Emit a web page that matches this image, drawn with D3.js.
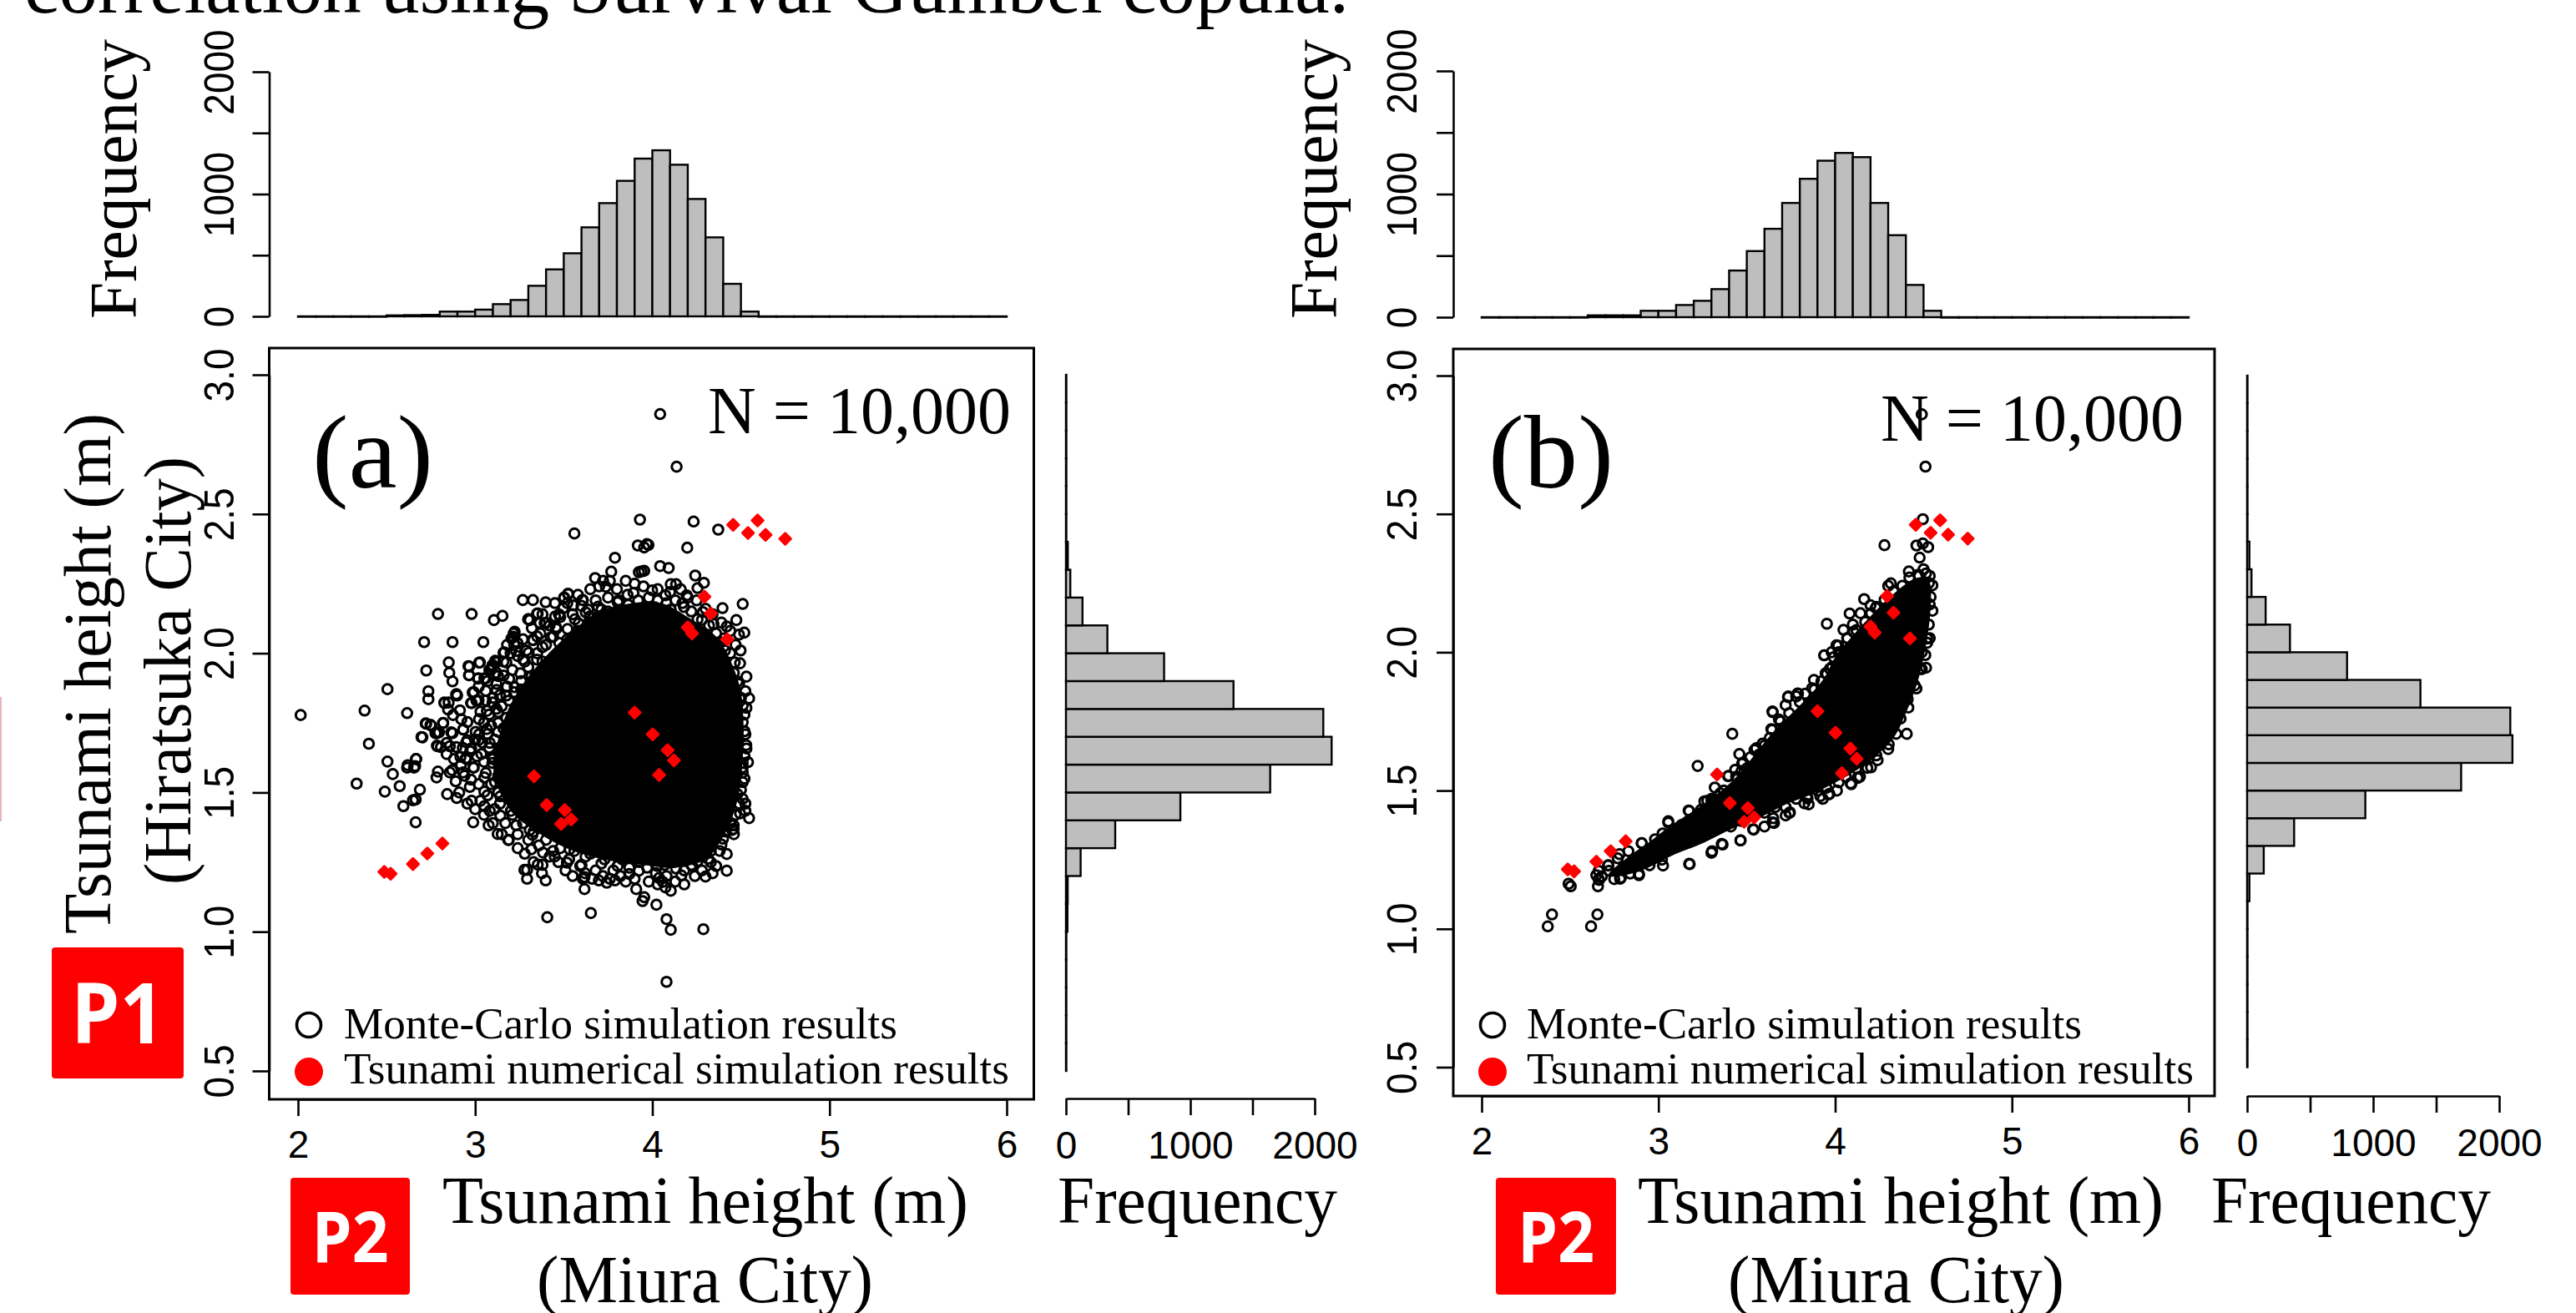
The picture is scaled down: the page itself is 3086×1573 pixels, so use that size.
<!DOCTYPE html>
<html>

<head>
    <script src="https://d3js.org/d3.v7.min.js"></script>
    <style>
        html, body {
            margin: 0;
            padding: 0;
            background: #fff;
            overflow: hidden;
        }
        
        svg {
            display: block;
        }
        
        .serif {
            font-family: "Liberation Serif", serif;
        }
        
        .axis text {
            font-family: "Liberation Sans", sans-serif;
            font-size: 46px;
            fill: #000;
        }
        
        .axis path,
        .axis line {
            stroke: #000;
            stroke-width: 2.6px;
        }
    </style>
</head>

<body>
    <div id="chart"></div>

    <script>
        var xTicks = [2, 3, 4, 5, 6];
        var yTicks = [0.5, 1, 1.5, 2, 2.5, 3];
        var freqTicks = [0, 500, 1000, 1500, 2000];

        // counts per 0.1 m bin, 2.0 to 6.0
        var histTopA = [0, 0, 0, 0, 0, 8, 10, 12, 39, 39, 55, 100, 134, 250, 384, 516, 728, 926, 1108, 1290, 1358, 1240, 960, 646, 266, 39, 0, 0, 0, 0, 0, 0, 0, 0, 0, 0, 0, 0, 0, 0];
        var histTopB = [0, 0, 0, 0, 0, 0, 15, 15, 15, 52, 52, 99, 133, 228, 379, 537, 718, 928, 1124, 1271, 1334, 1300, 928, 666, 262, 52, 0, 0, 0, 0, 0, 0, 0, 0, 0, 0, 0, 0, 0, 0];

        // counts per 0.1 m bin, 0.5 to 3.0
        var histRightA = [0, 0, 0, 0, 0, 12, 14, 118, 396, 920, 1642, 2136, 2069, 1347, 789, 333, 133, 35, 15, 0, 0, 0, 0, 0, 0];
        var histRightB = [0, 0, 0, 0, 0, 2, 18, 132, 373, 938, 1698, 2105, 2088, 1375, 793, 340, 147, 35, 18, 0, 0, 0, 0, 0, 0];

        // tsunami numerical simulation results [Miura, Hiratsuka]
        var simPoints = [
            [4.456, 2.461], [4.594, 2.477], [4.54, 2.432], [4.639, 2.425], [4.75, 2.411],
            [4.294, 2.203], [4.33, 2.143], [4.2, 2.093], [4.224, 2.071], [4.423, 2.05],
            [3.9, 1.787], [4.002, 1.709], [4.086, 1.652], [4.122, 1.615], [4.038, 1.563],
            [3.332, 1.558], [3.404, 1.455], [3.506, 1.437], [3.542, 1.403], [3.485, 1.387],
            [2.815, 1.317], [2.73, 1.281], [2.649, 1.243], [2.487, 1.215], [2.523, 1.208]
        ];

        // Monte-Carlo results that can be told apart by eye
        var mcPointsA = [
            [4.044, 2.859], [4.137, 2.67], [3.93, 2.48], [4.233, 2.473], [3.56, 2.43], [4.372, 2.444], [3.918, 2.387], [3.969, 2.392],
            [3.978, 2.389], [3.954, 2.38], [4.197, 2.379], [3.789, 2.343], [4.044, 2.313], [4.092, 2.306], [3.939, 2.294], [3.954, 2.296],
            [3.924, 2.291], [3.768, 2.293], [3.677, 2.27], [4.242, 2.279], [3.722, 2.26], [3.737, 2.239], [4.291, 2.253], [4.104, 2.248],
            [4.134, 2.248], [4.255, 2.234], [3.524, 2.214], [3.503, 2.2], [3.269, 2.191], [3.326, 2.191], [3.398, 2.183], [3.605, 2.191],
            [4.51, 2.177], [4.396, 2.162], [2.79, 2.141], [2.98, 2.141], [3.154, 2.134], [3.106, 2.119], [4.474, 2.119], [3.299, 2.122],
            [3.308, 2.119], [3.353, 2.143], [3.392, 2.109], [4.519, 2.074], [4.489, 2.067], [2.712, 2.04], [2.872, 2.04], [3.046, 2.04],
            [3.217, 2.071], [3.205, 2.053], [3.323, 2.048], [4.498, 2.01], [2.851, 1.967], [3.022, 1.966], [2.724, 1.938], [2.854, 1.93],
            [2.962, 1.954], [2.965, 1.921], [3.016, 1.909], [3.058, 1.909], [2.872, 1.899], [3.118, 1.967], [3.097, 1.95], [3.16, 2.002],
            [2.505, 1.871], [2.736, 1.864], [2.736, 1.835], [2.893, 1.852], [2.986, 1.859], [3.007, 1.83], [2.827, 1.821], [2.977, 1.821],
            [2.376, 1.794], [2.616, 1.785], [2.015, 1.778], [2.818, 1.749], [2.724, 1.747], [2.752, 1.74], [2.932, 1.726], [2.872, 1.713],
            [2.785, 1.713], [2.697, 1.699], [2.4, 1.675], [2.788, 1.666], [2.857, 1.666], [2.667, 1.62], [2.505, 1.611], [2.616, 1.589],
            [2.655, 1.589], [2.535, 1.566], [2.782, 1.554], [2.79, 1.575], [2.857, 1.572], [2.331, 1.532], [2.574, 1.523], [2.688, 1.51],
            [2.49, 1.503], [2.842, 1.494], [2.896, 1.48], [2.956, 1.46], [2.664, 1.475], [2.649, 1.472], [2.595, 1.451], [2.664, 1.393],
            [2.989, 1.393], [3.052, 1.451], [3.082, 1.434], [3.142, 1.417], [3.076, 1.382], [3.127, 1.351], [3.187, 1.329], [3.232, 1.382],
            [3.308, 1.365], [3.317, 1.296], [3.383, 1.284], [3.449, 1.27], [3.518, 1.248], [3.278, 1.222], [3.293, 1.222], [3.293, 1.19],
            [3.398, 1.184], [3.353, 1.241], [3.377, 1.21], [3.593, 1.236], [3.617, 1.196], [3.608, 1.19], [3.617, 1.153], [3.698, 1.184],
            [3.743, 1.176], [3.789, 1.184], [3.87, 1.207], [3.653, 1.067], [3.407, 1.052], [3.909, 1.153], [3.954, 1.124], [3.945, 1.11],
            [4.023, 1.097], [4.038, 1.193], [4.059, 1.179], [4.074, 1.159], [4.104, 1.147], [4.08, 1.045], [4.104, 1.007], [4.288, 1.009],
            [4.08, 0.82], [4.3, 1.198], [4.42, 1.219], [4.42, 1.279], [4.36, 1.236], [4.164, 1.202], [4.255, 1.253], [4.546, 1.408],
            [4.525, 1.46], [4.525, 1.434], [4.459, 1.382], [4.459, 1.369], [4.399, 1.334], [4.531, 1.658], [4.54, 1.609], [4.51, 1.572],
            [4.51, 1.752], [4.531, 1.804], [4.546, 1.838], [4.525, 1.864], [4.531, 1.916], [4.495, 1.964], [4.51, 1.537], [4.48, 1.494],
            [3.525, 2.212], [3.501, 2.199], [3.608, 2.191], [3.553, 2.172], [3.694, 2.167], [3.498, 2.162], [3.474, 2.139], [3.451, 2.132],
            [3.349, 2.142], [3.302, 2.122], [3.365, 2.109], [3.401, 2.109], [3.456, 2.094], [3.624, 2.147], [3.647, 2.132], [3.584, 2.107],
            [3.521, 2.087], [3.223, 2.077], [3.215, 2.059], [3.328, 2.047], [3.239, 2.037], [3.427, 2.057], [3.38, 2.022], [3.302, 2.002],
            [3.165, 2.003], [3.231, 2.008], [3.475, 2.037], [3.537, 2.047], [3.113, 1.973], [3.098, 1.958], [3.027, 1.967], [2.967, 1.952],
            [2.966, 1.921], [3.018, 1.91], [3.052, 1.91], [3.09, 1.943], [3.176, 1.967], [3.129, 1.918], [3.192, 1.908], [3.27, 1.977],
            [3.349, 1.977], [3.255, 1.928], [3.318, 1.918], [3.06, 1.865], [2.993, 1.86], [2.894, 1.853], [2.898, 1.848], [2.98, 1.821],
            [3.019, 1.83], [3.098, 1.823], [3.121, 1.868], [3.176, 1.848], [3.223, 1.878], [2.826, 1.823], [2.85, 1.823], [2.847, 1.798],
            [2.914, 1.795], [2.875, 1.778], [3.066, 1.793], [3.129, 1.788], [3.176, 1.768], [3.223, 1.788], [3.022, 1.763], [2.956, 1.753],
            [2.922, 1.763], [2.933, 1.726], [2.721, 1.748], [2.748, 1.743], [2.82, 1.75], [2.865, 1.716], [2.796, 1.716], [2.776, 1.713],
            [2.702, 1.698], [3.003, 1.718], [3.066, 1.728], [3.129, 1.718], [2.956, 1.688], [3.019, 1.688], [3.082, 1.678], [2.784, 1.668],
            [2.807, 1.663], [2.839, 1.678], [2.894, 1.663], [2.839, 1.638], [2.917, 1.628], [2.972, 1.648], [3.035, 1.638], [3.098, 1.628],
            [2.666, 1.62], [2.619, 1.598], [2.661, 1.595], [3.022, 1.709], [2.977, 1.658], [2.947, 1.623], [2.992, 1.589], [2.932, 1.572],
            [2.977, 1.546], [3.052, 1.554], [3.097, 1.606], [3.142, 1.658], [3.112, 1.537], [3.172, 1.572], [3.052, 1.503], [3.142, 1.486],
            [3.232, 1.486], [3.202, 1.434], [3.293, 1.434], [3.368, 1.391], [3.428, 1.365], [3.323, 1.348], [3.533, 1.296], [3.623, 1.27],
            [3.713, 1.245], [3.804, 1.236], [3.924, 1.219], [4.029, 1.236], [4.134, 1.227], [4.225, 1.236], [4.315, 1.262], [4.39, 1.313],
            [4.45, 1.365], [4.495, 1.425], [4.51, 1.477], [4.51, 1.606], [4.525, 1.709], [4.51, 1.812], [4.48, 1.898], [4.465, 1.967],
            [4.405, 2.053], [4.42, 2.096], [4.345, 2.105], [4.285, 2.148], [4.194, 2.208], [4.179, 2.166], [4.074, 2.208], [3.999, 2.226],
            [3.894, 2.217], [3.864, 2.174], [3.804, 2.183], [3.713, 2.157], [3.638, 2.157], [3.563, 2.122], [3.473, 2.139], [3.458, 2.088],
            [3.368, 2.071], [4.014, 2.165], [4.104, 2.157], [4.255, 2.122], [4.36, 2.071],
            [3.02, 1.88], [3.07, 1.9], [3.12, 1.89], [3.16, 1.92], [3.21, 1.94], [3.26, 1.9], [3.3, 1.95], [3.35, 2.0],
            [3.4, 2.03], [3.44, 2.06], [3.29, 2.01], [3.24, 1.99], [3.18, 2.03], [3.38, 1.97], [3.34, 1.92], [3.47, 2.0],
            [3.52, 2.05], [3.58, 2.08], [3.64, 2.11], [3.69, 2.13], [3.75, 2.15], [3.81, 2.19], [3.86, 2.21], [3.92, 2.19],
            [3.98, 2.2], [4.03, 2.19], [4.08, 2.18], [4.13, 2.19], [4.17, 2.18], [4.22, 2.15], [4.28, 2.12], [4.32, 2.1],
            [4.38, 2.04], [4.41, 2.01], [4.44, 2.0], [4.46, 1.93], [4.49, 1.89], [4.5, 1.84], [4.52, 1.78], [4.52, 1.72],
            [4.53, 1.67], [4.52, 1.63], [4.51, 1.59], [4.52, 1.55], [4.5, 1.51], [4.49, 1.46], [4.47, 1.42], [4.44, 1.39],
            [4.46, 1.35], [4.41, 1.36], [4.38, 1.29], [4.33, 1.29], [4.27, 1.27], [4.22, 1.24], [4.18, 1.22], [4.12, 1.25],
            [4.07, 1.24], [4.02, 1.21], [3.97, 1.23], [3.93, 1.25], [3.87, 1.23], [3.83, 1.26], [3.78, 1.22], [3.73, 1.26],
            [3.68, 1.22], [3.65, 1.28], [3.6, 1.24], [3.56, 1.29], [3.53, 1.26], [3.48, 1.3], [3.44, 1.29], [3.4, 1.33],
            [3.36, 1.31], [3.33, 1.36], [3.3, 1.33], [3.27, 1.39], [3.24, 1.35], [3.21, 1.42], [3.17, 1.39], [3.14, 1.46],
            [3.11, 1.44], [3.07, 1.49], [3.03, 1.47], [3.09, 1.53], [3.06, 1.57], [3.02, 1.53], [2.99, 1.59], [3.01, 1.63],
            [3.05, 1.61], [3.08, 1.66], [3.04, 1.68], [3.0, 1.69], [3.07, 1.71], [3.11, 1.69], [3.09, 1.74], [3.05, 1.75],
            [3.13, 1.75], [3.16, 1.73], [3.12, 1.8], [3.08, 1.78], [3.03, 1.79], [3.15, 1.81], [3.19, 1.83], [3.14, 1.85],
            [3.1, 1.84], [3.06, 1.83], [3.18, 1.88], [3.22, 1.86], [3.26, 1.87], [3.12, 1.93], [3.08, 1.94], [3.16, 1.97],
            [3.2, 2.0], [3.13, 1.56], [3.16, 1.6], [3.17, 1.52], [3.1, 1.62], [3.15, 1.65], [3.13, 1.5], [2.95, 1.62],
            [2.94, 1.56], [2.97, 1.52], [2.92, 1.6], [2.95, 1.68], [2.93, 1.66], [2.88, 1.62], [2.87, 1.58], [2.89, 1.54],
            [2.91, 1.5], [2.98, 1.47], [3.0, 1.44], [3.05, 1.42], [3.1, 1.39], [3.15, 1.35], [3.19, 1.33], [3.24, 1.3],
            [3.28, 1.28], [3.33, 1.25], [3.38, 1.24], [3.42, 1.27], [3.47, 1.25], [3.51, 1.22], [3.55, 1.2], [3.62, 1.21],
            [3.66, 1.19], [3.72, 1.2], [3.76, 1.19], [3.82, 1.2], [3.85, 1.18], [3.9, 1.19], [3.98, 1.18], [4.03, 1.17],
            [4.08, 1.2], [4.13, 1.18], [4.18, 1.17], [4.24, 1.2], [4.28, 1.22], [4.34, 1.21], [4.33, 1.25], [3.35, 2.06],
            [3.42, 2.1], [3.48, 2.13], [3.55, 2.14], [3.6, 2.17], [3.68, 2.19], [3.75, 2.2], [3.8, 2.23], [3.85, 2.26],
            [3.9, 2.25], [3.95, 2.24], [4.03, 2.23], [4.1, 2.22], [4.16, 2.23], [4.2, 2.2], [4.25, 2.19], [4.3, 2.16],
            [4.34, 2.14], [4.39, 2.11], [4.44, 2.08], [4.47, 2.03], [3.65, 2.23], [3.7, 2.24], [3.76, 2.26], [3.58, 2.21],
            [3.52, 2.18], [3.45, 2.18], [3.38, 2.14], [3.32, 2.09], [3.27, 2.05], [3.22, 2.03], [3.28, 1.97]
        ];

        var mcPointsB = [
            [4.49, 2.86], [4.511, 2.671], [4.496, 2.481], [4.279, 2.387], [4.46, 2.386], [4.496, 2.393], [4.526, 2.38], [4.478, 2.342],
            [4.417, 2.292], [4.315, 2.249], [4.164, 2.192], [4.082, 2.14], [4.143, 2.141], [4.203, 2.141], [4.233, 2.164], [3.953, 2.103],
            [4.047, 2.081], [4.104, 2.074], [4.068, 2.051], [4.007, 2.025], [3.938, 1.989], [3.992, 1.982], [3.983, 1.947], [3.953, 1.921],
            [3.922, 1.895], [3.79, 1.85], [3.735, 1.84], [3.72, 1.809], [3.645, 1.786], [3.682, 1.757], [3.418, 1.705], [3.639, 1.722],
            [3.554, 1.653], [3.458, 1.632], [3.222, 1.589], [3.479, 1.601], [3.434, 1.575], [3.397, 1.553], [3.319, 1.511], [3.277, 1.463],
            [3.313, 1.463], [3.171, 1.428], [3.056, 1.384], [3.132, 1.376], [2.981, 1.324], [2.905, 1.31], [2.83, 1.281], [2.77, 1.255],
            [2.715, 1.229], [2.649, 1.194], [2.664, 1.177], [2.658, 1.154], [2.788, 1.185], [2.89, 1.199], [3.026, 1.229], [3.177, 1.234],
            [3.304, 1.281], [3.358, 1.307], [3.464, 1.32], [3.539, 1.359], [3.645, 1.385], [3.741, 1.419], [3.826, 1.454], [3.916, 1.48],
            [3.968, 1.488], [4.091, 1.523], [4.128, 1.546], [4.203, 1.584], [4.233, 1.627], [4.303, 1.667], [4.405, 1.705], [4.345, 1.705],
            [4.414, 1.8], [4.46, 1.869], [4.514, 1.944], [4.49, 1.939], [4.535, 2.051], [4.52, 2.034], [4.535, 2.173], [4.55, 2.242],
            [4.535, 2.276], [4.514, 2.285], [4.475, 2.276], [2.492, 1.163], [2.504, 1.154], [2.398, 1.052], [2.655, 1.052], [2.374, 1.009],
            [2.619, 1.009], [3.394, 1.552], [3.26, 1.461], [3.3, 1.461], [3.056, 1.389], [3.174, 1.426], [3.024, 1.345], [2.906, 1.31],
            [2.78, 1.27], [2.717, 1.23], [2.662, 1.21], [2.662, 1.179], [2.783, 1.181], [2.89, 1.194], [3.174, 1.235], [3.3, 1.275],
            [3.363, 1.305], [3.465, 1.32], [3.536, 1.36], [3.654, 1.383], [3.744, 1.421], [3.844, 1.471], [3.962, 1.486], [4.088, 1.526],
            [4.127, 1.546], [4.182, 1.582], [3.647, 1.783], [3.733, 1.838], [3.788, 1.851], [3.643, 1.72], [3.6, 1.662], [3.544, 1.647],
            [3.473, 1.597], [3.938, 1.989], [3.883, 1.865], [3.946, 1.924], [4.017, 2.024],
            [2.68, 1.19], [2.72, 1.21], [2.75, 1.18], [2.8, 1.22], [2.84, 1.2], [2.87, 1.25], [2.93, 1.27], [2.95, 1.23],
            [2.99, 1.3], [3.02, 1.25], [3.05, 1.33], [3.09, 1.3], [3.11, 1.36], [3.15, 1.31], [3.17, 1.39], [3.21, 1.33],
            [3.24, 1.43], [3.28, 1.36], [3.3, 1.47], [3.34, 1.38], [3.37, 1.5], [3.41, 1.37], [3.44, 1.55], [3.47, 1.39],
            [3.5, 1.58], [3.53, 1.41], [3.57, 1.63], [3.6, 1.42], [3.63, 1.69], [3.66, 1.44], [3.69, 1.75], [3.72, 1.44],
            [3.74, 1.78], [3.78, 1.47], [3.8, 1.82], [3.84, 1.48], [3.87, 1.87], [3.9, 1.5], [3.91, 1.85], [3.95, 1.51],
            [3.97, 1.94], [4.02, 1.53], [4.02, 2.0], [4.06, 1.55], [4.07, 2.05], [4.12, 1.58], [4.12, 2.08], [4.17, 1.61],
            [4.17, 2.11], [4.22, 1.65], [4.23, 2.16], [4.27, 1.68], [4.28, 2.19], [4.33, 1.73], [4.33, 2.22], [4.37, 1.76],
            [4.38, 2.24], [4.41, 1.83], [4.42, 2.27], [4.45, 1.88], [4.47, 2.28], [4.48, 1.94], [4.5, 2.3], [4.51, 1.99],
            [4.53, 2.25], [4.54, 2.2], [4.53, 2.1], [4.55, 2.15], [4.52, 2.05], [4.49, 2.0], [3.59, 1.67], [3.47, 1.57],
            [3.35, 1.49], [3.22, 1.41], [3.1, 1.34], [2.98, 1.28], [2.86, 1.23], [3.78, 1.84], [3.88, 1.9], [3.98, 2.0],
            [4.1, 2.1], [4.2, 2.17], [4.3, 2.24], [3.83, 1.85], [3.52, 1.62], [3.6, 1.37], [3.65, 1.4], [3.72, 1.41],
            [3.85, 1.45], [3.93, 1.47], [4.01, 1.5], [4.14, 1.55], [4.24, 1.61], [4.3, 1.65]
        ];

        // outline of the part where the circles merge into solid black
        var coreA = [
            [3.7, 2.15], [3.55, 2.08], [3.4, 1.99], [3.27, 1.89], [3.18, 1.79], [3.13, 1.69], [3.1, 1.6], [3.14, 1.5],
            [3.22, 1.42], [3.32, 1.37], [3.45, 1.32], [3.6, 1.28], [3.8, 1.25], [3.95, 1.24], [4.13, 1.23], [4.3, 1.26],
            [4.39, 1.33], [4.45, 1.41], [4.49, 1.5], [4.51, 1.62], [4.515, 1.74], [4.5, 1.86], [4.45, 1.96], [4.36, 2.06],
            [4.2, 2.13], [4.05, 2.18], [3.89, 2.18]
        ];
        var coreB = [
            [2.72, 1.2], [2.85, 1.27], [2.94, 1.31], [3.063, 1.37], [3.253, 1.45], [3.41, 1.53], [3.52, 1.61], [3.647, 1.71],
            [3.804, 1.81], [3.93, 1.9], [4.007, 1.99], [4.1, 2.06], [4.2, 2.13], [4.31, 2.2], [4.43, 2.26], [4.5, 2.27],
            [4.54, 2.24], [4.535, 2.12], [4.5, 1.98], [4.46, 1.88], [4.4, 1.78], [4.33, 1.69], [4.22, 1.62], [4.088, 1.56],
            [3.883, 1.491], [3.725, 1.451], [3.568, 1.4], [3.41, 1.36], [3.253, 1.31], [3.095, 1.27], [2.937, 1.22], [2.78, 1.19]
        ];

        var width = 3086,
            height = 1573;

        var svg = d3.select("#chart")
            .append("svg")
            .attr("width", width)
            .attr("height", height);

        function label(str, x, y, size, len, rotated) {
            var t = svg.append("text")
                .attr("class", "serif")
                .attr("font-size", size)
                .attr("fill", "#000")
                .text(str);
            if (rotated) {
                t.attr("transform", "translate(" + x + "," + y + ") rotate(-90)");
            } else {
                t.attr("x", x).attr("y", y);
            }
            if (len) {
                t.attr("textLength", len).attr("lengthAdjust", "spacingAndGlyphs");
            }
            return t;
        }

        function badge(str, x0, x1, y0, y1, size, len, baseline) {
            svg.append("rect")
                .attr("x", x0)
                .attr("y", y0)
                .attr("width", x1 - x0)
                .attr("height", y1 - y0)
                .attr("rx", 4)
                .attr("fill", "#ff0000");
            svg.append("text")
                .attr("x", (x0 + x1) / 2)
                .attr("y", baseline)
                .attr("text-anchor", "middle")
                .attr("font-family", "'Open Sans', sans-serif")
                .attr("font-weight", "bold")
                .attr("font-size", size)
                .attr("fill", "#fff")
                .attr("textLength", len)
                .attr("lengthAdjust", "spacingAndGlyphs")
                .text(str);
        }

        function drawPanel(p) {
            var x = d3.scaleLinear().domain([2, 6]).range(p.xRange);
            var y = d3.scaleLinear().domain([0.5, 3]).range(p.yRange);
            var freqUp = d3.scaleLinear().domain([0, 2000]).range(p.freqUpRange);
            var freqRight = d3.scaleLinear().domain([0, 2000]).range(p.freqRightRange);

            var binsTop = p.histTop.map(function(d, i) {
                return { from: 2 + i * 0.1, to: 2 + (i + 1) * 0.1, count: d };
            });
            var binsRight = p.histRight.map(function(d, i) {
                return { from: 0.5 + i * 0.1, to: 0.5 + (i + 1) * 0.1, count: d };
            });

            // top histogram, empty bins still leave their line on the baseline
            svg.append("g")
                .selectAll("rect")
                .data(binsTop)
                .enter()
                .append("rect")
                .attr("x", function(d) { return x(d.from); })
                .attr("y", function(d) { return freqUp(d.count); })
                .attr("width", function(d) { return x(d.to) - x(d.from); })
                .attr("height", function(d) { return Math.max(0.5, freqUp(0) - freqUp(d.count)); })
                .attr("fill", "#bebebe")
                .attr("stroke", "#000")
                .attr("stroke-width", 2.4);

            var upAxis = svg.append("g")
                .attr("class", "axis")
                .attr("transform", "translate(" + p.frame[0] + ",0)")
                .call(d3.axisLeft(freqUp).tickValues(freqTicks).tickSize(20).tickSizeOuter(0).tickFormat(function(d) {
                    return d % 1000 == 0 ? d : "";
                }));
            upAxis.selectAll("text")
                .attr("x", 0)
                .attr("dy", 0)
                .attr("text-anchor", "middle")
                .attr("transform", "translate(" + p.tickLabelOffset + ",0) rotate(-90) scale(1,1.1)");
            upAxis.select(".domain").attr("fill", "none");

            // right histogram
            svg.append("g")
                .selectAll("rect")
                .data(binsRight)
                .enter()
                .append("rect")
                .attr("x", freqRight(0))
                .attr("y", function(d) { return y(d.to); })
                .attr("width", function(d) { return Math.max(0.5, freqRight(d.count) - freqRight(0)); })
                .attr("height", function(d) { return y(d.from) - y(d.to); })
                .attr("fill", "#bebebe")
                .attr("stroke", "#000")
                .attr("stroke-width", 2.4);

            var rightAxis = svg.append("g")
                .attr("class", "axis")
                .attr("transform", "translate(0," + p.freqAxisY + ")")
                .call(d3.axisBottom(freqRight).tickValues(freqTicks).tickSize(20).tickSizeOuter(0).tickFormat(function(d) {
                    return d % 1000 == 0 ? d : "";
                }));
            rightAxis.selectAll("text")
                .attr("y", 72)
                .attr("dy", 0);

            // scatter frame
            svg.append("rect")
                .attr("x", p.frame[0])
                .attr("y", p.frame[1])
                .attr("width", p.frame[2] - p.frame[0])
                .attr("height", p.frame[3] - p.frame[1])
                .attr("fill", "#fff")
                .attr("stroke", "#000")
                .attr("stroke-width", 3);

            var xAxis = svg.append("g")
                .attr("class", "axis")
                .attr("transform", "translate(0," + p.frame[3] + ")")
                .call(d3.axisBottom(x).tickValues(xTicks).tickSize(20).tickSizeOuter(0).tickFormat(d3.format("d")));
            xAxis.selectAll("text")
                .attr("y", 70)
                .attr("dy", 0);

            var yAxis = svg.append("g")
                .attr("class", "axis")
                .attr("transform", "translate(" + p.frame[0] + ",0)")
                .call(d3.axisLeft(y).tickValues(yTicks).tickSize(20).tickSizeOuter(0).tickFormat(d3.format(".1f")));
            yAxis.selectAll("text")
                .attr("x", 0)
                .attr("dy", 0)
                .attr("text-anchor", "middle")
                .attr("transform", "translate(" + p.tickLabelOffset + ",0) rotate(-90) scale(1,1.1)");

            // points
            var core = d3.line()
                .x(function(d) { return x(d[0]); })
                .y(function(d) { return y(d[1]); })
                .curve(d3.curveCardinalClosed);

            svg.append("path")
                .attr("d", core(p.core))
                .attr("fill", "#000");

            svg.append("g")
                .selectAll("circle")
                .data(p.mc)
                .enter()
                .append("circle")
                .attr("cx", function(d) { return x(d[0]); })
                .attr("cy", function(d) { return y(d[1]); })
                .attr("r", 5.8)
                .attr("fill", "none")
                .attr("stroke", "#000")
                .attr("stroke-width", 3);

            svg.append("g")
                .selectAll("path")
                .data(simPoints)
                .enter()
                .append("path")
                .attr("d", d3.symbol().type(d3.symbolSquare).size(90))
                .attr("transform", function(d) {
                    return "translate(" + x(d[0]) + "," + y(d[1]) + ") rotate(45)";
                })
                .attr("fill", "#ff0000")
                .attr("stroke", "#ff0000")
                .attr("stroke-width", 3)
                .attr("stroke-linejoin", "round");

            // legend
            svg.append("circle")
                .attr("cx", p.legendX)
                .attr("cy", 1228)
                .attr("r", 14.5)
                .attr("fill", "none")
                .attr("stroke", "#000")
                .attr("stroke-width", 3.6);
            svg.append("circle")
                .attr("cx", p.legendX)
                .attr("cy", 1284)
                .attr("r", 17)
                .attr("fill", "#ff0000");
            label("Monte-Carlo simulation results", p.legendText, 1244, 52, p.legendLen1);
            label("Tsunami numerical simulation results", p.legendText, 1298, 52, p.legendLen2);

            label("N = 10,000", p.nX, p.nY, 80, 363);
            label(p.tag, p.tagX, 584, 125, p.tagLen);

            label("Tsunami height (m)", p.xTitle[0], 1465, 80, 630);
            label("(Miura City)", p.xTitle[1], 1560, 80, 403);
            label("Frequency", p.freqTitleX, 1465, 80, 335);
            label("Frequency", p.freqUpTitleX, 382, 80, 335, true);
        }

        label("correlation using Survival Gumbel copula.", 29, 15, 95, 1587);

        // cropped edge of something outside the picture
        svg.append("rect")
            .attr("x", 0)
            .attr("y", 835)
            .attr("width", 2)
            .attr("height", 149)
            .attr("fill", "#e8b5bb");

        drawPanel({
            frame: [322.5, 417, 1238.5, 1317],
            xRange: [357, 1206],
            yRange: [1283, 449],
            freqUpRange: [379, 86],
            freqRightRange: [1277, 1575],
            freqAxisY: 1316,
            tickLabelOffset: -43,
            histTop: histTopA,
            histRight: histRightA,
            mc: mcPointsA,
            core: coreA,
            legendX: 370,
            legendText: 412,
            legendLen1: 663,
            legendLen2: 797,
            nX: 848,
            nY: 519,
            tag: "(a)",
            tagX: 374,
            tagLen: 145,
            xTitle: [530, 643],
            freqTitleX: 1267,
            freqUpTitleX: 163
        });

        drawPanel({
            frame: [1741, 418, 2653, 1313],
            xRange: [1775, 2622],
            yRange: [1278.5, 450],
            freqUpRange: [380, 85],
            freqRightRange: [2692, 2994],
            freqAxisY: 1313,
            tickLabelOffset: -44,
            histTop: histTopB,
            histRight: histRightB,
            mc: mcPointsB,
            core: coreB,
            legendX: 1788,
            legendText: 1829,
            legendLen1: 665,
            legendLen2: 799,
            nX: 2253,
            nY: 528,
            tag: "(b)",
            tagX: 1783,
            tagLen: 150,
            xTitle: [1962, 2070],
            freqTitleX: 2649,
            freqUpTitleX: 1601
        });

        // y title only on the left panel
        label("Tsunami height (m)", 132, 1119, 80, 624, true);
        label("(Hiratsuka City)", 228, 1060, 80, 513, true);

        badge("P1", 62, 220, 1135, 1292, 100, 112, 1250);
        badge("P2", 348, 491, 1411, 1551, 84, 92, 1512);
        badge("P2", 1792, 1936, 1411, 1551, 84, 92, 1512);
    </script>

</body>

</html>
